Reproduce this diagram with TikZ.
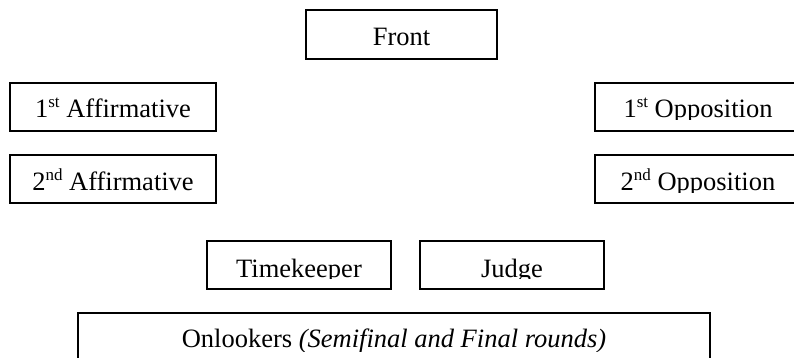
\documentclass[tikz,border=0pt]{standalone}
\usepackage{fontspec}
\setmainfont{Liberation Serif}
\usetikzlibrary{calc}
\newcommand\supx[1]{\raisebox{10pt}{\fontsize{17}{17}\selectfont #1}}
\begin{document}
\begin{tikzpicture}[x=1pt,y=-1pt,
  box/.style={draw=black, line width=1.3pt, fill=none},
  lbl/.style={anchor=base, inner sep=0pt, font=\fontsize{26.5}{30}\selectfont}]
\clip (0,0) rectangle (794,358);
\fill[white] (0,0) rectangle (794,358);
% boxes
\draw[box] (306,10) rectangle (497,59);
\coordinate (frontNW) at (306,10); \coordinate (frontSE) at (497,59);
\draw[box] (10,83) rectangle (216,131);
\coordinate (a1NW) at (10,83); \coordinate (a1SE) at (216,131);
\draw[box] (10,155) rectangle (216,203);
\coordinate (a2NW) at (10,155); \coordinate (a2SE) at (216,203);
\draw[box] (595,83) rectangle (801,131);
\coordinate (o1NW) at (595,83); \coordinate (o1SE) at (801,131);
\draw[box] (595,155) rectangle (801,203);
\coordinate (o2NW) at (595,155); \coordinate (o2SE) at (801,203);
\draw[box] (207,241) rectangle (391,289);
\coordinate (tNW) at (207,241); \coordinate (tSE) at (391,289);
\draw[box] (420,241) rectangle (604,289);
\coordinate (jNW) at (420,241); \coordinate (jSE) at (604,289);
\draw[box] (78,313) rectangle (710,361);
\coordinate (onNW) at (78,313); \coordinate (onSE) at (710,361);
% texts, clipped slightly below the baseline
\begin{scope}\clip (frontNW) rectangle ($(frontSE)+(0,-11)$);
\node[lbl] (front) at ($(frontNW)!0.5!(frontSE |- frontNW)+(0,36)$) {Front};
\end{scope}
\begin{scope}\clip (a1NW) rectangle ($(a1SE)+(0,-11)$);
\node[lbl] (a1) at ($(a1NW)!0.5!(a1SE |- a1NW)+(0,35)$) {1\supx{st} Affirmative};
\end{scope}
\begin{scope}\clip (a2NW) rectangle ($(a2SE)+(0,-11)$);
\node[lbl] (a2) at ($(a2NW)!0.5!(a2SE |- a2NW)+(0,35)$) {2\supx{nd} Affirmative};
\end{scope}
\begin{scope}\clip (o1NW) rectangle ($(o1SE)+(0,-11)$);
\node[lbl] (o1) at ($(o1NW)!0.5!(o1SE |- o1NW)+(0,35)$) {1\supx{st} Opposition};
\end{scope}
\begin{scope}\clip (o2NW) rectangle ($(o2SE)+(0,-11)$);
\node[lbl] (o2) at ($(o2NW)!0.5!(o2SE |- o2NW)+(0,35)$) {2\supx{nd} Opposition};
\end{scope}
\begin{scope}\clip (tNW) rectangle ($(tSE)+(0,-11)$);
\node[lbl] (t) at ($(tNW)!0.5!(tSE |- tNW)+(0,36)$) {Timekeeper};
\end{scope}
\begin{scope}\clip (jNW) rectangle ($(jSE)+(0,-11)$);
\node[lbl] (j) at ($(jNW)!0.5!(jSE |- jNW)+(0,36)$) {Judge};
\end{scope}
\begin{scope}\clip (onNW) rectangle ($(onSE |- onNW)+(0,38)$);
\node[lbl] (on) at ($(onNW)!0.5!(onSE |- onNW)+(0,34.7)$) {Onlookers \textit{(Semifinal and Final rounds)}};
\end{scope}
\end{tikzpicture}
\end{document}
